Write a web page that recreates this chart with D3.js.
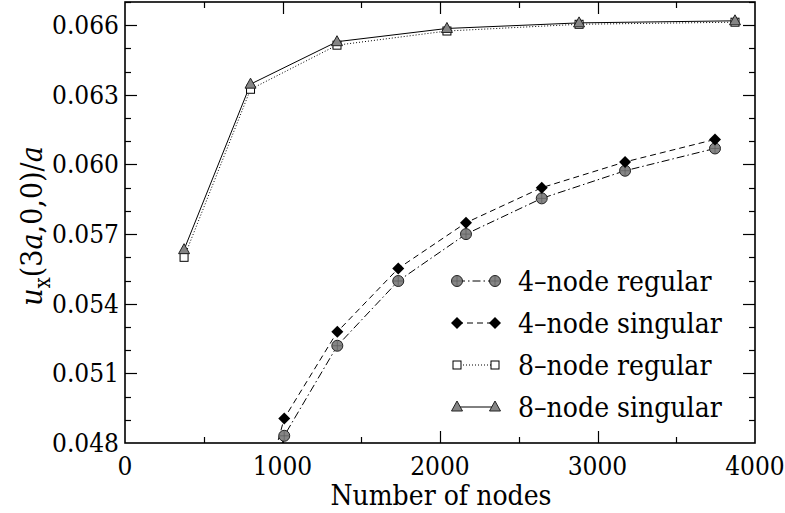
<!DOCTYPE html>
<html>
<head>
<meta charset="utf-8">
<script src="https://cdn.jsdelivr.net/npm/d3@7/dist/d3.min.js"></script>
<style>
  html, body { margin: 0; padding: 0; background: #fff; }
  svg { display: block; }
  svg text { font-family: "DejaVu Serif Condensed", "DejaVu Serif", serif; font-stretch: condensed; }
</style>
</head>
<body>
<svg id="chart" width="785" height="513"></svg>
<script>
// Number of nodes for each mesh family
const nodes4 = [600, 1011, 1348, 1735, 2165, 2646, 3175, 3746];
const nodes8 = [375, 797, 1346, 2044, 2883, 3873];

// Displacement u_x(3a,0,0)/a
const reg4  = [0.0382, 0.04831, 0.05219, 0.05498, 0.05700, 0.05854, 0.05973, 0.06069];
const sing4 = [0.0390, 0.04906, 0.05279, 0.05552, 0.05749, 0.05900, 0.06011, 0.06108];
const reg8  = [0.05600, 0.06324, 0.06514, 0.06575, 0.06604, 0.06613];
const sing8 = [0.05633, 0.06346, 0.06529, 0.06586, 0.06610, 0.06619];

const xTicks = [0, 1000, 2000, 3000, 4000];
const yTicks = [0.048, 0.051, 0.054, 0.057, 0.060, 0.063, 0.066];
const legendLabels = ["4\u2013node regular", "4\u2013node singular", "8\u2013node regular", "8\u2013node singular"];

const series = [
  { name: legendLabels[0], x: nodes4, y: reg4,  dash: "8,3,1.5,3", marker: "circle" },
  { name: legendLabels[1], x: nodes4, y: sing4, dash: "6,4",       marker: "diamond" },
  { name: legendLabels[2], x: nodes8, y: reg8,  dash: "1,2",       marker: "square" },
  { name: legendLabels[3], x: nodes8, y: sing8, dash: null,        marker: "triangle" }
];

const svg = d3.select("#chart");
const pL = 125, pR = 755, pT = 2, pB = 443;

const x = d3.scaleLinear().domain([0, 4000]).range([pL, pR]);
const y = d3.scaleLinear().domain([0.048, 0.067]).range([pB, pT]);

svg.append("defs").append("clipPath").attr("id", "plotClip")
  .append("rect").attr("x", pL).attr("y", pT).attr("width", pR - pL).attr("height", pB - pT);

// Inward ticks on all four sides
const xMinor = d3.range(0, 4001, 500);
const yMinor = d3.range(0, 20).map(i => 0.048 + i * 0.001).filter(v => v <= 0.067 + 1e-9);
const isMajorX = v => Math.abs(v / 1000 - Math.round(v / 1000)) < 1e-6;
const isMajorY = v => Math.abs((v - 0.048) / 0.003 - Math.round((v - 0.048) / 0.003)) < 1e-6;

const tickG = svg.append("g").attr("stroke", "#000").attr("stroke-width", 1.2);
xMinor.forEach(v => {
  const len = isMajorX(v) ? 12 : 6;
  const px = Math.round(x(v)) + 0.5;
  if (v > 0 && v < 4000) {
    tickG.append("line").attr("x1", px).attr("x2", px).attr("y1", pB).attr("y2", pB - len);
    tickG.append("line").attr("x1", px).attr("x2", px).attr("y1", pT).attr("y2", pT + len);
  }
});
yMinor.forEach(v => {
  const len = isMajorY(v) ? 12 : 6;
  const py = Math.round(y(v)) + 0.5;
  if (v > 0.0481) {
    tickG.append("line").attr("x1", pL).attr("x2", pL + len).attr("y1", py).attr("y2", py);
    tickG.append("line").attr("x1", pR).attr("x2", pR - len).attr("y1", py).attr("y2", py);
  }
});

// Tick labels
svg.append("g").selectAll("text").data(xTicks).join("text")
  .attr("x", d => x(d)).attr("y", pB + 32)
  .attr("text-anchor", "middle").attr("font-size", 26)
  .text(d => d);
svg.append("g").selectAll("text").data(yTicks).join("text")
  .attr("x", pL - 6).attr("y", d => y(d) + 9)
  .attr("text-anchor", "end").attr("font-size", 26)
  .text(d => d3.format(".3f")(d));

// Frame
svg.append("rect").attr("x", pL).attr("y", pT).attr("width", pR - pL).attr("height", pB - pT)
  .attr("fill", "none").attr("stroke", "#000").attr("stroke-width", 1.6);

// Marker drawing
function drawMarker(g, type, cx, cy) {
  if (type === "circle") {
    g.append("circle").attr("cx", cx).attr("cy", cy).attr("r", 5.5)
      .attr("fill", "#858585").attr("stroke", "#222").attr("stroke-width", 1);
    g.append("path").attr("d", `M${cx - 5},${cy}H${cx + 5}M${cx},${cy - 5}V${cy + 5}`)
      .attr("stroke", "#555").attr("stroke-width", 0.6).attr("fill", "none");
  } else if (type === "diamond") {
    const s = 6;
    g.append("path").attr("d", `M${cx},${cy - s}L${cx + s},${cy}L${cx},${cy + s}L${cx - s},${cy}Z`)
      .attr("fill", "#000");
  } else if (type === "square") {
    g.append("rect").attr("x", cx - 4).attr("y", cy - 4).attr("width", 8).attr("height", 8)
      .attr("fill", "#fff").attr("stroke", "#000").attr("stroke-width", 1);
  } else if (type === "triangle") {
    g.append("path").attr("d", `M${cx},${cy - 6}L${cx + 5.5},${cy + 4}L${cx - 5.5},${cy + 4}Z`)
      .attr("fill", "#858585").attr("stroke", "#222").attr("stroke-width", 1);
  }
}

const plot = svg.append("g").attr("clip-path", "url(#plotClip)");
const line = d3.line().x(d => x(d[0])).y(d => y(d[1]));

series.forEach(s => {
  const pts = s.x.map((v, i) => [v, s.y[i]]);
  plot.append("path").datum(pts).attr("d", line)
    .attr("fill", "none").attr("stroke", "#000").attr("stroke-width", 1)
    .attr("stroke-dasharray", s.dash);
});
series.forEach(s => {
  const g = plot.append("g");
  s.x.forEach((v, i) => {
    if (s.y[i] >= 0.048) drawMarker(g, s.marker, x(v), y(s.y[i]));
  });
});

// Legend
const legend = svg.append("g");
series.forEach((s, i) => {
  const ly = 281 + i * 42;
  legend.append("line").attr("x1", 457).attr("x2", 495).attr("y1", ly).attr("y2", ly)
    .attr("stroke", "#000").attr("stroke-width", 1).attr("stroke-dasharray", s.dash);
  drawMarker(legend, s.marker, 457, ly);
  drawMarker(legend, s.marker, 495, ly);
  legend.append("text").attr("x", 518).attr("y", ly + 10).attr("font-size", 28).text(s.name);
});

// Axis titles
svg.append("text").attr("x", 441).attr("y", 505).attr("text-anchor", "middle")
  .attr("font-size", 28).text("Number of nodes");

const yt = svg.append("text").attr("transform", "translate(42,226) rotate(-90)")
  .attr("text-anchor", "middle").attr("font-size", 30);
yt.append("tspan").attr("font-style", "italic").text("u");
yt.append("tspan").attr("font-size", 22).attr("dy", 8).text("x");
yt.append("tspan").attr("dy", -8).text("(3");
yt.append("tspan").attr("font-style", "italic").text("a");
yt.append("tspan").text(",0,0)/");
yt.append("tspan").attr("font-style", "italic").text("a");
</script>
</body>
</html>
